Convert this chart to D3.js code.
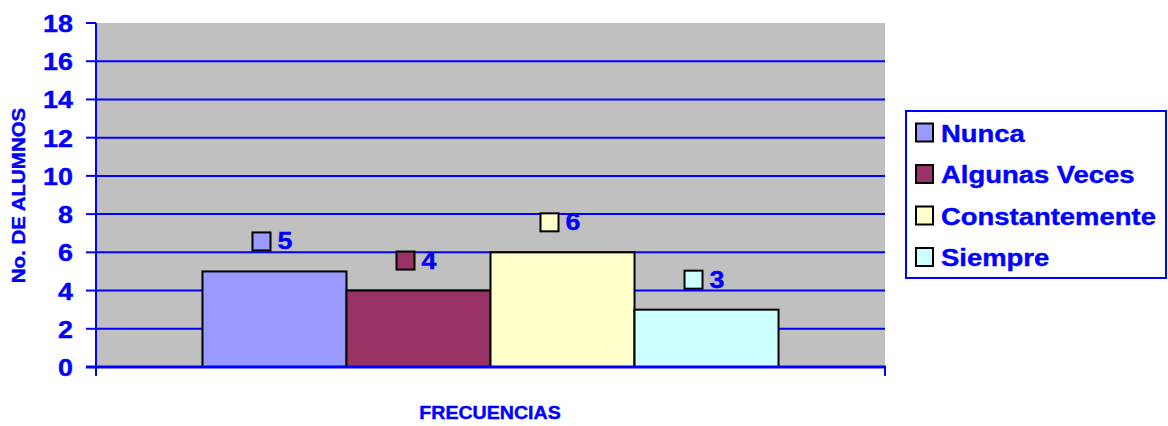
<!DOCTYPE html>
<html>
<head>
<meta charset="utf-8">
<script src="https://cdn.jsdelivr.net/npm/d3@7"></script>
<style>
  body { margin: 0; background: #fff; }
  text { font-family: "Liberation Sans", Arial, sans-serif; font-weight: bold; fill: #0000ff; stroke: #0000ff; stroke-width: 0.4px; }
</style>
</head>
<body>
<div id="chart-container"></div>
<script>
const categories = ['FRECUENCIAS'];
const series = ['Nunca', 'Algunas Veces', 'Constantemente', 'Siempre'];
const values = [5, 4, 6, 3];
const colors = ['#9999ff', '#993366', '#ffffcc', '#ccffff'];
const yTicks = [0, 2, 4, 6, 8, 10, 12, 14, 16, 18];

const W = 1168, H = 426;
const STRETCH = 1.12; // text in the picture is a bit wider than plain Arial
const plot = {left: 96, right: 885, top: 23, bottom: 367};
const blue = '#0000ff';

const svg = d3.select('#chart-container').append('svg')
  .attr('width', W)
  .attr('height', H);

const y = d3.scaleLinear()
  .domain([0, 18])
  .range([plot.bottom, plot.top]);

const x0 = d3.scaleBand()
  .domain(categories)
  .range([plot.left, plot.right])
  .padding(0.156);

const x1 = d3.scaleBand()
  .domain(series)
  .range([0, x0.bandwidth()]);

const txt = (sel, px, py, size, anchor) => sel.append('text')
  .attr('transform', 'translate(' + px + ',' + py + ') scale(' + STRETCH + ',1)')
  .attr('text-anchor', anchor || 'start')
  .style('font-size', size + 'px');

//plot background
svg.append('rect')
  .attr('x', plot.left)
  .attr('y', plot.top)
  .attr('width', plot.right - plot.left)
  .attr('height', plot.bottom - plot.top)
  .attr('fill', '#c0c0c0');

//gridlines + ticks
yTicks.forEach(t => {
  if (t > 0 && t < 18) {
    svg.append('line')
      .attr('x1', plot.left).attr('x2', plot.right)
      .attr('y1', y(t)).attr('y2', y(t))
      .attr('stroke', blue).attr('stroke-width', 2);
  }
  svg.append('line')
    .attr('x1', plot.left - 10).attr('x2', plot.left)
    .attr('y1', y(t)).attr('y2', y(t))
    .attr('stroke', blue).attr('stroke-width', 2);
  txt(svg, 73, y(t) + 9, 24, 'end').text(t);
});

//bars
const g = svg.append('g')
  .attr('transform', 'translate(' + x0(categories[0]) + ',0)');

g.selectAll('rect.bar')
  .data(values)
  .enter().append('rect')
  .attr('class', 'bar')
  .attr('x', (d, i) => x1(series[i]))
  .attr('y', d => y(d))
  .attr('width', x1.bandwidth())
  .attr('height', d => y(0) - y(d))
  .attr('fill', (d, i) => colors[i])
  .attr('stroke', '#000')
  .attr('stroke-width', 2);

//value labels with colour key
values.forEach((d, i) => {
  const cx = x1(series[i]) + x1.bandwidth() / 2;
  g.append('rect')
    .attr('x', cx - 22)
    .attr('y', y(d) - 39)
    .attr('width', 18)
    .attr('height', 18)
    .attr('fill', colors[i])
    .attr('stroke', '#000')
    .attr('stroke-width', 2);
  txt(g, cx + 3, y(d) - 22, 24).text(d);
});

//axes lines
svg.append('line')
  .attr('x1', plot.left).attr('x2', plot.left)
  .attr('y1', plot.top).attr('y2', plot.bottom + 9)
  .attr('stroke', blue).attr('stroke-width', 2);
svg.append('line')
  .attr('x1', plot.left - 10).attr('x2', plot.right + 1)
  .attr('y1', plot.bottom).attr('y2', plot.bottom)
  .attr('stroke', blue).attr('stroke-width', 3);
svg.append('line')
  .attr('x1', plot.right).attr('x2', plot.right)
  .attr('y1', plot.bottom).attr('y2', plot.bottom + 9)
  .attr('stroke', blue).attr('stroke-width', 2);

//axis titles
txt(svg, 490, 419, 17.5, 'middle').text('FRECUENCIAS');
svg.append('text')
  .attr('transform', 'translate(25,195.5) rotate(-90) scale(1.17,1)')
  .attr('text-anchor', 'middle')
  .style('font-size', '17.5px')
  .text('No. DE ALUMNOS');

//legend
const legend = svg.append('g');
legend.append('rect')
  .attr('x', 906).attr('y', 111)
  .attr('width', 260).attr('height', 167)
  .attr('fill', '#fff')
  .attr('stroke', blue)
  .attr('stroke-width', 2);
series.forEach((s, i) => {
  const cy = 132.5 + i * 41.5;
  legend.append('rect')
    .attr('x', 916).attr('y', cy - 9)
    .attr('width', 17).attr('height', 18)
    .attr('fill', colors[i])
    .attr('stroke', '#000')
    .attr('stroke-width', 2);
  txt(legend, 941, cy + 9, 24.5).text(s);
});
</script>
</body>
</html>
